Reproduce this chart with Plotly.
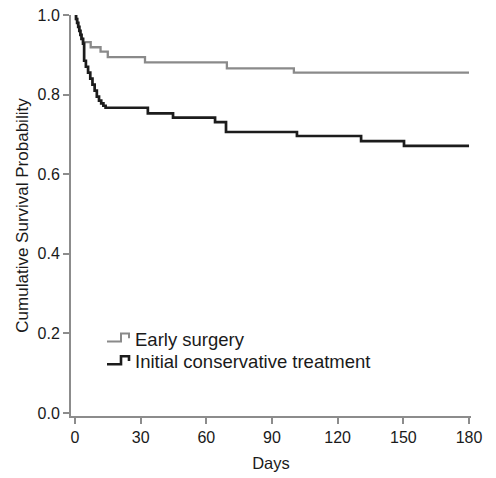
import plotly.graph_objects as go

# Kaplan-Meier step points (day, survival)
surgery_days = [0, 0.5, 1, 1.5, 2, 2.5, 3, 3.7, 7.2, 11.7, 15, 32, 69.4, 100, 180]
surgery_surv = [1.0, 0.99, 0.98, 0.97, 0.96, 0.95, 0.94, 0.932, 0.919, 0.908, 0.894, 0.881, 0.866, 0.855, 0.855]

conservative_days = [0, 0.5, 1, 1.5, 2, 2.5, 3, 3.7, 4.2, 5, 6, 7, 8, 9, 10, 11, 12, 13, 14,
                     33.3, 44.8, 64, 69, 101.4, 130.7, 150.3, 180]
conservative_surv = [1.0, 0.99, 0.98, 0.97, 0.96, 0.95, 0.94, 0.928, 0.885, 0.87, 0.855, 0.84,
                     0.825, 0.81, 0.795, 0.785, 0.778, 0.772, 0.767,
                     0.753, 0.742, 0.731, 0.706, 0.696, 0.683, 0.671, 0.671]

group_names = ["Early surgery", "Initial conservative treatment"]
group_colors = ["#8a8a8a", "#1c1c1c"]

x_ticks = [0, 30, 60, 90, 120, 150, 180]
y_ticks = [0.0, 0.2, 0.4, 0.6, 0.8, 1.0]
y_tick_labels = ["0.0", "0.2", "0.4", "0.6", "0.8", "1.0"]

font = "Liberation Sans, Arial, sans-serif"
axis_grey = "#8c8c8c"

fig = go.Figure()
fig.add_trace(go.Scatter(x=surgery_days, y=surgery_surv, mode="lines", name=group_names[0],
                         line=dict(color=group_colors[0], width=2.3, shape="hv")))
fig.add_trace(go.Scatter(x=conservative_days, y=conservative_surv, mode="lines", name=group_names[1],
                         line=dict(color=group_colors[1], width=2.7, shape="hv")))

# SPSS-style legend: small step glyph + label, drawn in paper space
legend_rows = [0.192, 0.135]
for name, color, yc, w in zip(group_names, group_colors, legend_rows, [2, 2.6]):
    lo, hi, mid = yc - 0.006, yc + 0.014, yc + 0.002
    fig.add_shape(type="path", xref="paper", yref="paper",
                  path=f"M 0.09,{lo} L 0.125,{lo} L 0.125,{hi} L 0.145,{hi} L 0.145,{mid}",
                  line=dict(color=color, width=w))
    fig.add_annotation(text=name, xref="paper", yref="paper", x=0.155, y=yc,
                       xanchor="left", yanchor="middle", showarrow=False,
                       font=dict(size=18.5, color="#1a1a1a"))

fig.update_layout(
    width=496, height=478,
    margin=dict(l=71, r=25, t=15, b=62),
    plot_bgcolor="white", paper_bgcolor="white",
    font=dict(family=font, size=16, color="#1a1a1a"),
    showlegend=False,
)
fig.update_xaxes(
    range=[-1.8, 180.9], tickvals=x_ticks, showgrid=False, zeroline=False,
    showline=True, linecolor=axis_grey, linewidth=2,
    ticks="outside", ticklen=6, tickwidth=2, tickcolor=axis_grey,
    title=dict(text="Days", font=dict(size=16.5), standoff=12), automargin=False,
)
fig.update_yaxes(
    range=[-0.0076, 1.0], tickvals=y_ticks, ticktext=y_tick_labels, showgrid=False, zeroline=False,
    showline=True, linecolor=axis_grey, linewidth=2,
    ticks="outside", ticklen=6, tickwidth=2, tickcolor=axis_grey,
    title=dict(text="Cumulative Survival Probability", font=dict(size=17), standoff=5), automargin=False,
)

# drop the default 8px page margin so the figure sits at the window's corner
fig.write_html("out.html", config={"displayModeBar": False},
               post_script="document.body.style.margin='0';")
